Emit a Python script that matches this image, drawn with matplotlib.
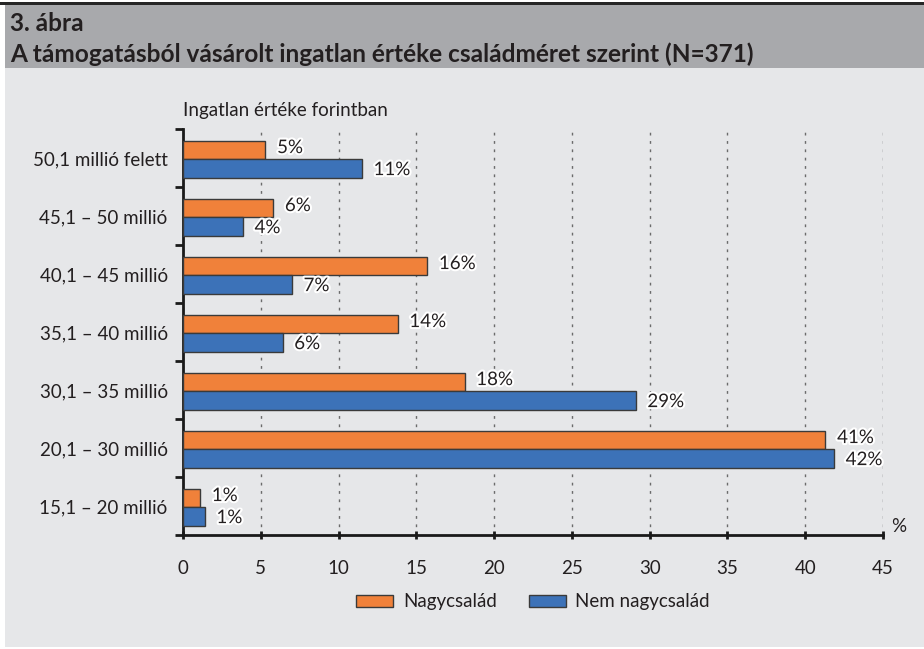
import matplotlib

matplotlib.use("Agg")

import matplotlib.pyplot as plt
import numpy as np
from matplotlib import patheffects
from matplotlib.patches import Rectangle

# data, top to bottom as in the chart
CATEGORIES = [
    "50,1 millió felett",
    "45,1 – 50 millió",
    "40,1 – 45 millió",
    "35,1 – 40 millió",
    "30,1 – 35 millió",
    "20,1 – 30 millió",
    "15,1 – 20 millió",
]
NAGYCSALAD = [5.3, 5.8, 15.7, 13.8, 18.1, 41.3, 1.1]
NEM_NAGYCSALAD = [11.5, 3.85, 7.0, 6.4, 29.1, 41.85, 1.4]
NAGY_LABELS = ["5%", "6%", "16%", "14%", "18%", "41%", "1%"]
NEM_LABELS = ["11%", "4%", "7%", "6%", "29%", "42%", "1%"]
SERIES_NAMES = ["Nagycsalád", "Nem nagycsalád"]
X_TICKS = [0, 5, 10, 15, 20, 25, 30, 35, 40, 45]

ORANGE = "#F0813A"
BLUE = "#3C72B8"
EDGE = "#3A3A3A"
TEXT = "#231F20"
PANEL = "#E6E7E9"
BAND = "#A8A9AC"
FONT = ["Lato", "DejaVu Sans"]
FS = 13.5

plt.rcParams["font.family"] = FONT

W, H = 924, 649
fig = plt.figure(figsize=(W / 100, H / 100), dpi=100, facecolor="white")

# background panels
fig.patches.append(Rectangle((5 / W, 2 / H), 1, (647 - 68) / H, transform=fig.transFigure,
                             facecolor=PANEL, edgecolor="none", zorder=-10))
fig.patches.append(Rectangle((5 / W, 1 - 68 / H), 1, (68 - 5) / H, transform=fig.transFigure,
                             facecolor=BAND, edgecolor="none", zorder=-10))
fig.patches.append(Rectangle((0, 1 - 5 / H), 1, 3 / H, transform=fig.transFigure,
                             facecolor="#262626", edgecolor="none", zorder=-10))

fig.text(10 / W, 1 - 31 / H, "3. ábra", fontsize=17.6, fontweight="bold", color=TEXT, va="baseline")
fig.text(10 / W, 1 - 62 / H, "A támogatásból vásárolt ingatlan értéke családméret szerint (N=371)",
         fontsize=17.6, fontweight="bold", color=TEXT, va="baseline")

ax = fig.add_axes([183 / W, (H - 535) / H, 700 / W, (535 - 129) / H])
ax.set_facecolor("none")

n = len(CATEGORIES)
y = np.arange(n)[::-1].astype(float)
h = 0.32
ax.barh(y + h / 2 - 0.02, NAGYCSALAD, height=h, color=ORANGE, edgecolor=EDGE, linewidth=1,
        label=SERIES_NAMES[0], zorder=3)
ax.barh(y - h / 2 - 0.02, NEM_NAGYCSALAD, height=h, color=BLUE, edgecolor=EDGE, linewidth=1,
        label=SERIES_NAMES[1], zorder=3)

halo = [patheffects.withStroke(linewidth=3, foreground="white")]
for yi, v, lab in zip(y, NAGYCSALAD, NAGY_LABELS):
    ax.text(v + 0.75, yi + h / 2 + 0.02, lab, va="center", ha="left", fontsize=FS, color=TEXT,
            path_effects=halo, zorder=5)
for yi, v, lab in zip(y, NEM_NAGYCSALAD, NEM_LABELS):
    ax.text(v + 0.75, yi - h / 2 - 0.04, lab, va="center", ha="left", fontsize=FS, color=TEXT,
            path_effects=halo, zorder=5)

ax.set_xlim(0, 45)
ax.set_ylim(-0.5, n - 0.5)
ax.set_xticks(X_TICKS)
ax.set_yticks(np.arange(-0.5, n, 1.0))
ax.set_yticklabels([])
ax.set_yticks(y, minor=True)
ax.set_yticklabels(CATEGORIES, minor=True)
ax.tick_params(axis="y", which="major", length=6, width=2, color="#1a1a1a", direction="out")
ax.tick_params(axis="y", which="minor", length=0, pad=11, labelsize=FS, labelcolor=TEXT)
ax.tick_params(axis="x", length=6, width=2, color="#1a1a1a", direction="inout", pad=15,
               labelsize=FS, labelcolor=TEXT)

ax.grid(True, axis="x", linestyle=(0, (2, 4)), color="#6b6b6b", linewidth=1, zorder=1)
ax.set_axisbelow(True)
for side in ("top", "right"):
    ax.spines[side].set_visible(False)
for side in ("left", "bottom"):
    ax.spines[side].set_color("#1a1a1a")
    ax.spines[side].set_linewidth(2)

ax.text(0, 1.025, "Ingatlan értéke forintban", transform=ax.transAxes, ha="left", va="bottom",
        fontsize=FS, color=TEXT)
ax.text(1.012, 0.02, "%", transform=ax.transAxes, ha="left", va="center", fontsize=FS, color=TEXT)

fig.legend(loc="center", bbox_to_anchor=(533 / W, 1 - 602 / H), ncol=2, frameon=False,
           fontsize=FS, handlelength=2.0, handleheight=0.65, columnspacing=1.7, handletextpad=0.5,
           labelcolor=TEXT)

fig.savefig("out.png", dpi=100, facecolor="white")
